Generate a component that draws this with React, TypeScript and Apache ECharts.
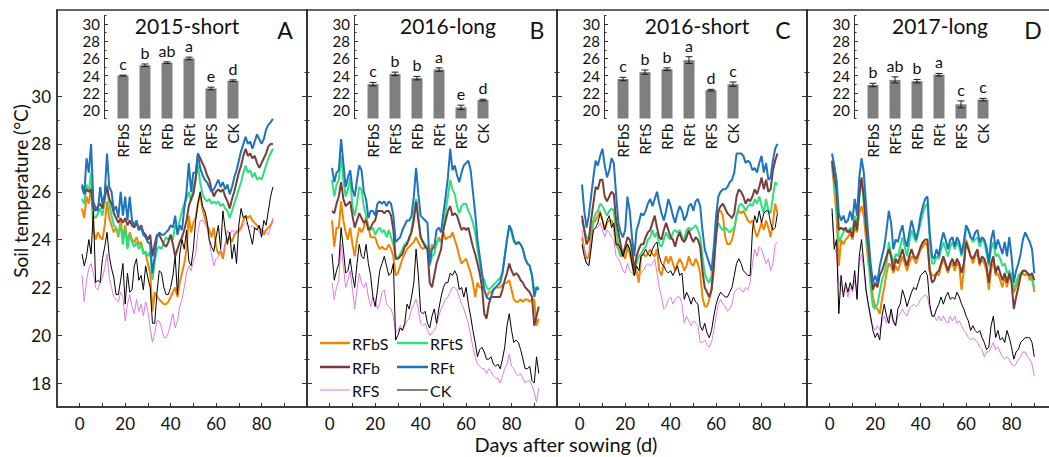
import React, { useEffect, useRef } from 'react';
import * as echarts from 'echarts';

const treatments = ['RFbS', 'RFtS', 'RFb', 'RFt', 'RFS', 'CK'];
const seriesColors = ['#F28500', '#2BE07D', '#7A3B3B', '#1E73BE', '#E07BE0', '#000000'];
const seriesWidths = [2, 2, 2, 2, 1, 1];
const panelTitles = ['2015-short', '2016-long', '2016-short', '2017-long'];
const panelLetters = ['A', 'B', 'C', 'D'];
const xTickLabels = [0, 20, 40, 60, 80];
const xTicks = [0, 10, 20, 30, 40, 50, 60, 70, 80, 90];
const yTickLabels = [18, 20, 22, 24, 26, 28, 30];
const yMinorTicks = [19, 21, 23, 25, 27, 29, 31];
const insetTickLabels = [20, 22, 24, 26, 28, 30];
const insetMinorTicks = [19, 21, 23, 25, 27, 29, 31];

// Panel A: 2015-short, day 1..85
const A_RFbS = [25.3,24.9,25.8,25.5,26.2,24.4,24.0,24.3,24.1,24.0,24.6,25.6,24.9,24.6,24.3,24.5,24.1,24.8,24.1,24.6,23.9,24.3,24.0,23.9,24.1,23.8,23.9,23.5,23.4,23.0,22.6,21.0,21.8,21.6,21.5,21.4,21.3,21.3,21.4,21.6,21.8,22.0,21.6,22.2,22.6,23.0,23.6,25.0,24.3,24.7,24.9,25.5,25.9,25.3,24.9,24.6,24.4,24.1,24.5,23.7,23.4,23.5,23.2,23.8,24.0,24.1,23.9,24.2,24.3,24.4,24.5,24.8,25.0,24.9,25.0,24.8,24.7,24.6,24.5,24.4,24.2,24.4,24.5,24.6,24.8];
const A_RFtS = [25.7,25.5,26.3,26.0,26.8,25.0,24.9,25.1,25.3,25.0,25.6,26.3,25.5,25.0,24.6,24.5,24.2,24.6,23.8,24.5,23.6,24.2,23.9,23.7,23.9,23.6,23.8,23.4,23.5,23.3,23.5,22.3,23.1,23.6,23.7,23.6,23.9,24.1,24.0,24.2,24.0,24.6,24.4,24.8,25.2,25.5,25.7,26.0,25.6,26.2,26.6,27.1,26.4,25.9,25.7,25.6,25.7,25.5,25.6,25.5,25.6,25.4,25.5,25.3,25.2,24.9,25.2,25.5,25.8,26.1,26.4,26.8,27.1,26.8,26.9,26.6,26.8,26.5,26.6,26.5,26.8,27.1,27.4,27.6,27.8];
const A_RFb = [26.2,25.9,26.1,26.0,26.1,25.3,25.2,25.4,25.5,25.3,25.8,26.2,25.7,25.5,25.1,24.9,24.7,24.9,24.7,24.9,24.6,24.8,24.6,24.5,24.7,24.4,24.6,24.3,24.2,24.0,24.2,23.3,23.8,24.2,24.2,24.0,23.8,23.7,23.9,24.2,23.8,23.3,23.6,23.9,24.1,24.4,24.8,25.4,25.7,25.9,26.5,27.6,27.4,27.2,27.0,26.7,26.5,26.1,25.8,26.0,26.1,26.0,26.1,25.8,25.6,25.3,25.7,26.0,26.4,26.8,27.1,27.5,27.8,27.5,27.6,27.4,27.5,27.2,27.0,27.2,27.4,27.6,27.9,28.0,28.0];
const A_RFt = [26.3,25.9,27.4,26.8,28.0,25.6,25.3,25.2,26.2,25.5,25.9,27.6,26.2,26.0,25.2,25.4,24.9,26.0,25.0,25.8,24.8,25.8,24.8,24.6,24.8,24.4,24.5,24.2,24.1,23.9,23.8,22.6,23.3,24.1,24.3,24.2,24.2,24.3,24.4,24.6,24.5,25.0,24.2,24.6,24.4,25.3,26.0,27.2,26.0,26.8,26.8,27.6,27.0,26.7,26.5,26.4,26.2,26.0,26.1,26.3,26.5,26.2,26.4,26.1,26.3,25.9,26.2,26.6,26.9,27.3,27.7,28.0,28.3,28.0,28.1,27.8,28.1,28.4,28.2,28.0,28.2,28.6,28.8,28.9,29.05];
const A_RFS = [22.5,21.4,22.3,22.8,23.0,22.6,22.0,21.9,22.2,22.4,22.8,23.4,22.4,22.0,21.6,21.5,21.4,21.8,21.6,20.6,21.3,21.7,21.2,20.9,21.5,21.0,21.3,20.8,21.4,21.0,20.3,19.7,20.1,20.6,20.6,20.3,19.9,19.9,20.1,20.5,20.9,20.3,20.6,21.2,21.5,22.0,22.6,22.9,22.7,23.1,23.4,24.3,24.8,24.8,24.7,24.5,23.9,23.4,22.9,23.2,23.3,23.6,23.4,23.8,24.4,24.2,24.4,24.3,24.4,24.3,24.4,24.6,24.7,24.6,24.5,24.6,24.4,24.5,24.3,24.2,24.4,24.3,24.2,24.5,24.9];
const A_CK = [23.4,22.9,23.3,24.0,23.4,25.2,22.2,22.3,22.2,23.2,23.7,24.3,23.3,22.8,22.4,21.7,21.7,22.3,23.0,21.3,22.6,21.8,21.9,22.9,23.2,22.3,22.5,21.9,22.9,22.4,22.0,20.5,20.5,21.8,22.7,22.6,22.0,21.7,21.7,22.0,22.5,23.3,21.7,23.4,24.0,23.6,24.4,23.1,22.9,23.6,24.8,25.5,26.0,25.4,25.2,24.8,24.0,23.7,23.5,24.1,24.6,23.6,25.2,24.4,23.8,24.3,23.2,23.8,23.0,24.6,25.3,24.9,25.0,24.6,24.2,23.8,24.5,24.4,24.6,24.1,24.8,24.6,25.2,25.8,26.2];

// Panel B: 2016-long, day 1..92
const B_RFbS = [24.8,23.7,24.5,24.5,25.6,24.8,24.3,24.0,24.5,23.8,23.3,24.0,24.5,24.3,24.5,25.0,24.5,24.1,24.1,24.1,23.8,23.6,23.7,23.6,23.6,23.8,23.6,23.3,22.5,22.6,22.9,23.2,23.4,23.6,23.7,23.8,23.9,24.1,23.9,23.7,23.6,23.7,23.6,23.3,23.8,23.6,23.8,24.1,23.9,24.3,24.0,24.1,24.1,24.3,24.0,23.7,23.3,23.0,23.1,23.2,22.9,22.6,22.2,21.6,22.2,22.0,22.0,21.9,21.6,21.8,21.8,21.9,22.0,22.0,22.0,22.1,22.2,22.2,22.3,21.9,21.5,21.4,21.4,21.5,21.4,21.5,21.5,21.4,21.5,21.5,20.4,20.7];
const B_RFtS = [26.5,25.8,26.3,26.5,27.5,26.5,25.8,26.1,26.6,25.4,25.0,25.5,26.2,26.1,25.4,25.0,24.5,24.4,24.5,24.2,24.4,24.5,24.3,24.4,24.1,24.4,24.1,23.8,23.3,23.2,23.4,23.6,23.8,23.9,24.0,24.4,25.1,25.7,25.0,24.1,23.9,23.8,23.7,22.9,23.3,23.4,23.9,24.0,23.9,24.4,25.2,25.8,26.5,26.1,25.9,25.4,25.1,25.4,25.5,25.5,25.2,25.0,24.7,24.3,23.6,23.0,22.5,22.3,22.0,21.9,22.0,22.1,22.2,22.3,22.4,22.6,23.3,24.0,24.5,24.3,23.9,23.8,23.9,23.8,23.6,23.2,23.0,22.9,22.5,21.9,22.0,22.0];
const B_RFb = [25.2,25.1,25.5,25.8,26.4,25.7,25.4,25.5,25.6,25.0,24.5,24.8,25.1,24.9,24.7,24.8,24.4,24.5,24.7,24.8,25.2,25.2,25.2,25.1,25.2,25.2,25.0,24.4,23.2,23.2,23.3,23.4,23.7,23.8,24.1,24.3,24.8,25.6,24.8,24.1,23.9,23.7,23.6,22.2,22.0,22.5,23.0,23.3,23.6,24.4,24.8,25.2,25.4,25.0,25.1,25.0,24.7,24.4,24.5,24.4,24.5,24.1,23.7,23.4,23.0,22.6,22.0,20.9,20.7,21.3,21.6,21.6,21.6,21.6,21.6,21.9,22.3,22.6,23.0,22.7,22.5,22.6,22.5,22.3,22.2,22.0,21.9,21.8,21.6,20.4,20.8,21.2];
const B_RFt = [27.0,26.4,26.8,26.9,28.2,27.2,26.2,26.6,26.9,26.1,25.8,26.5,27.1,26.9,26.0,25.7,24.9,25.2,25.2,25.0,25.5,25.6,25.5,25.6,25.4,25.6,25.5,25.0,23.9,24.0,24.1,24.4,24.6,24.8,24.8,25.0,25.8,27.0,25.9,25.0,24.9,24.8,24.7,23.0,23.6,23.7,24.4,24.5,24.3,25.1,25.8,26.6,27.8,26.9,27.1,26.7,26.4,26.8,27.1,27.2,27.3,26.9,26.0,25.1,24.0,23.3,22.6,21.9,21.6,21.5,21.6,21.9,22.0,22.1,22.2,22.6,23.3,24.0,24.6,24.4,24.0,23.8,23.9,23.8,23.6,23.2,23.0,22.9,22.5,21.6,22.0,21.9];
const B_RFS = [22.2,21.5,22.0,22.3,23.8,22.9,22.0,22.3,22.7,21.9,21.1,21.9,22.6,22.2,22.0,22.2,21.6,21.2,21.6,21.5,21.1,21.3,21.8,21.9,21.3,21.2,21.1,20.8,20.1,20.2,20.4,20.2,20.4,20.6,20.7,21.1,21.3,21.5,21.1,20.5,20.4,20.5,20.2,20.0,20.1,20.2,20.4,20.8,21.1,21.3,21.5,21.6,21.8,22.0,22.0,21.9,21.6,21.3,21.1,20.8,20.5,20.0,19.5,19.1,18.8,18.7,18.6,18.6,18.4,18.6,18.5,18.3,18.2,18.2,18.0,18.3,18.6,18.8,19.2,18.7,18.6,18.4,18.3,18.4,18.2,18.0,18.1,18.1,17.9,17.6,17.2,17.8];
const B_CK = [23.4,22.3,22.7,23.0,24.5,23.6,22.6,22.7,23.2,22.5,22.0,23.0,23.8,23.3,23.2,23.8,23.0,22.5,21.6,21.2,21.9,22.7,23.0,23.3,22.9,22.5,22.6,23.0,19.8,20.0,20.3,20.2,20.5,21.3,21.1,21.6,22.2,23.6,22.5,21.0,20.9,21.0,20.5,20.3,20.8,21.1,20.5,21.1,21.6,22.0,22.2,22.2,22.6,22.5,22.7,22.5,21.9,22.0,21.6,22.0,21.3,20.8,20.2,19.7,19.1,19.4,19.5,19.3,19.0,19.0,19.1,18.8,18.7,18.8,18.6,19.0,19.5,20.4,20.9,20.2,19.7,19.8,19.7,19.4,19.0,18.6,18.6,18.7,18.1,18.0,19.1,18.4];

// Panel C: 2016-short, day 1..87
const C_RFbS = [24.1,23.6,23.2,23.3,24.1,24.7,24.8,25.0,25.2,24.8,24.4,24.7,24.8,24.8,24.5,23.8,23.6,23.3,23.4,23.2,23.7,23.4,23.0,22.5,22.7,22.2,23.3,23.4,23.3,23.4,23.6,23.4,23.3,23.6,22.7,22.5,23.0,23.3,23.0,23.3,23.0,22.7,23.0,23.2,23.0,22.7,22.9,23.3,23.0,22.9,23.2,23.0,22.6,21.6,21.2,21.2,21.5,21.9,22.7,24.4,25.2,25.2,25.0,24.1,23.8,23.8,24.0,24.4,25.0,25.2,25.1,25.2,25.0,24.8,24.7,24.8,24.4,24.1,24.4,24.7,24.4,24.8,24.5,24.1,24.7,25.5,25.1];
const C_RFtS = [24.8,24.4,24.1,24.0,24.4,24.8,25.1,25.2,25.5,25.4,25.2,25.0,25.2,25.3,25.2,24.4,23.8,23.3,23.4,23.7,23.8,23.6,23.2,22.6,23.0,23.3,23.4,23.6,23.7,24.0,24.1,24.4,24.1,24.3,23.8,23.7,24.0,24.3,24.1,24.0,24.3,24.4,24.3,24.4,24.1,24.0,24.4,24.5,24.4,24.5,24.6,24.4,24.1,23.3,22.6,22.3,22.2,22.5,23.3,24.3,24.7,24.5,24.4,24.5,24.4,24.3,24.4,24.5,25.0,25.4,25.5,25.4,25.2,25.4,25.5,25.4,25.7,25.5,25.8,25.4,25.1,25.7,25.2,25.1,25.8,26.4,26.3];
const C_RFb = [25.0,24.4,23.8,24.0,24.8,25.5,26.2,26.1,26.5,26.5,25.8,25.6,25.8,26.0,25.9,24.8,24.3,23.8,23.3,23.7,24.1,24.0,23.6,22.7,23.3,23.6,23.8,23.8,24.1,24.3,24.4,24.7,25.0,24.5,24.1,24.0,24.4,24.7,24.4,24.1,24.0,23.7,24.1,24.3,24.0,23.9,24.1,24.4,24.1,23.9,24.1,24.0,23.7,22.7,22.0,21.8,21.6,21.9,23.0,24.1,25.2,25.4,25.5,25.3,25.1,25.0,24.9,25.1,25.8,26.1,26.0,25.8,25.5,25.7,25.6,25.8,26.1,25.9,26.2,26.6,26.1,26.5,26.0,26.1,26.9,27.3,27.6];
const C_RFt = [26.3,25.2,24.5,25.0,25.8,26.6,27.3,27.1,27.5,27.8,27.1,26.6,26.9,27.4,27.2,25.9,24.7,24.3,24.1,24.4,25.8,25.2,24.1,23.3,24.4,24.7,25.1,25.0,25.2,25.5,25.7,25.4,25.7,26.0,25.5,25.1,24.8,25.2,25.7,25.4,25.0,24.7,25.1,25.4,25.2,24.8,25.0,25.4,25.5,25.2,25.6,25.7,25.4,24.4,23.6,23.3,23.0,22.7,23.7,25.0,25.8,26.0,26.1,26.1,26.2,26.4,26.5,26.8,27.6,27.6,27.6,27.5,27.2,27.3,27.2,26.9,27.0,26.8,27.2,27.5,26.8,27.2,26.5,26.6,27.3,27.8,28.0];
const C_RFS = [24.4,23.6,23.0,23.0,23.8,24.4,24.5,24.5,24.7,24.4,24.1,24.4,24.3,24.1,24.0,23.3,23.2,23.0,22.7,22.6,23.0,22.7,22.6,22.5,22.6,22.5,22.6,22.7,22.9,23.0,22.9,23.0,23.2,22.6,22.0,21.6,21.1,21.2,21.5,21.6,21.3,21.5,21.6,21.6,21.3,20.5,20.8,20.6,20.4,20.6,20.5,20.4,19.7,19.7,19.8,19.6,19.5,19.7,20.2,20.8,21.3,21.5,21.3,21.2,21.0,21.1,21.3,21.8,21.9,22.0,21.9,21.8,22.0,21.9,22.2,23.0,23.6,23.3,23.7,23.6,23.3,23.0,23.2,22.7,23.0,23.8,23.9];
const C_CK = [23.8,23.3,23.0,22.9,23.6,24.4,24.5,24.7,25.1,24.8,24.4,24.8,25.0,24.5,24.7,23.8,23.8,23.6,23.3,23.6,23.8,23.6,23.0,22.5,22.9,22.7,23.3,23.4,23.6,23.4,23.3,23.6,23.8,23.9,23.3,23.0,22.9,22.7,22.6,22.7,22.5,22.7,22.9,22.5,22.6,21.5,21.8,21.6,21.3,21.6,21.4,21.3,20.4,20.2,20.5,20.1,19.9,20.2,20.8,21.3,21.6,21.8,21.7,21.6,21.6,21.8,22.0,22.5,23.0,23.2,23.0,22.7,22.6,22.5,22.5,24.4,25.0,24.7,25.2,24.7,25.1,25.2,25.2,24.7,24.4,24.5,25.1];

// Panel D: 2017-long, day 1..90
const D_RFbS = [27.1,26.1,25.0,22.9,24.0,23.8,24.0,24.1,24.3,24.0,24.5,24.3,25.1,25.4,25.0,24.0,23.0,22.5,21.6,21.2,21.1,20.9,21.5,22.0,22.6,23.0,22.9,22.6,22.9,22.7,23.0,23.3,23.0,22.7,23.0,23.3,23.2,23.0,23.3,23.6,23.7,23.9,23.7,22.7,22.5,22.5,22.6,22.5,22.9,23.2,22.9,22.6,22.9,23.0,22.7,23.0,22.9,21.9,22.7,24.0,23.7,23.3,23.0,23.3,23.4,22.9,23.2,23.0,22.7,21.9,22.7,23.2,22.5,22.6,22.3,22.0,22.5,22.0,22.5,22.3,21.8,22.0,22.3,22.5,22.6,22.5,22.6,22.3,22.5,21.8];
const D_RFtS = [27.2,26.4,25.5,23.9,24.1,24.3,24.4,24.3,24.5,24.4,25.0,24.5,25.9,26.5,25.5,24.4,23.3,22.0,21.2,21.1,21.3,21.8,22.3,22.6,23.0,23.9,23.4,23.0,23.4,23.3,23.7,24.1,23.7,23.3,23.9,24.4,24.1,23.9,24.3,24.7,25.1,25.4,25.5,24.0,23.0,23.0,23.3,23.2,23.6,23.9,23.6,23.3,23.7,23.9,23.6,23.9,23.7,23.3,23.7,24.5,24.4,24.1,23.9,24.0,24.1,23.7,24.0,23.9,23.4,22.9,23.6,23.9,23.3,23.4,23.2,22.9,23.0,22.6,22.7,22.5,21.9,22.2,22.5,22.6,22.7,22.7,22.6,22.5,22.3,22.0];
const D_RFb = [27.3,26.6,26.1,24.4,24.5,24.4,24.5,24.3,24.4,24.1,24.8,24.4,25.8,26.6,25.8,24.5,23.7,22.7,21.9,22.2,22.0,22.5,22.7,23.0,23.3,23.6,23.3,22.7,23.2,23.0,23.3,23.6,23.2,22.9,23.3,23.6,23.3,23.2,23.4,23.7,23.9,24.0,24.0,22.7,22.2,22.3,22.6,22.7,23.0,23.3,23.0,22.7,23.0,23.2,22.9,23.2,23.0,22.6,23.0,23.9,23.6,23.3,23.2,23.4,23.6,23.0,23.3,23.2,22.9,22.2,23.0,23.3,22.6,22.9,22.6,22.3,22.6,22.2,22.6,22.2,21.1,21.6,22.0,22.5,22.7,22.7,22.6,22.5,22.6,22.3];
const D_RFt = [27.6,27.1,26.5,25.1,24.8,25.0,24.7,24.8,25.2,24.8,25.7,25.0,26.6,27.4,26.8,25.4,24.1,23.0,22.2,22.5,22.2,22.9,23.3,23.7,24.4,25.2,24.7,23.6,24.0,23.9,24.3,24.6,24.0,23.7,24.3,24.8,24.4,24.0,24.4,25.0,25.4,25.7,25.8,24.3,23.3,23.2,23.6,23.3,23.9,24.3,24.0,23.6,24.0,24.1,23.7,24.1,23.9,23.4,23.9,24.6,24.4,24.1,24.0,24.3,24.4,23.9,24.1,24.0,23.7,23.0,24.0,24.4,23.6,24.0,23.7,23.4,23.9,23.3,24.1,23.3,22.2,22.7,23.0,23.4,24.0,24.3,24.1,23.9,23.6,22.6];
const D_RFS = [25.1,23.7,23.4,22.2,21.9,21.8,22.0,21.6,22.0,21.8,22.3,21.9,23.0,23.4,22.7,21.8,21.2,20.6,20.4,20.2,20.4,20.2,20.6,20.8,20.5,20.8,20.9,20.5,20.4,20.8,20.9,21.1,20.9,20.8,21.1,21.2,21.3,21.2,21.3,21.5,21.6,21.7,21.6,21.1,20.8,20.8,20.6,20.8,20.6,20.8,20.6,20.5,20.8,20.6,20.8,20.5,20.6,20.4,20.2,20.1,19.9,19.8,19.9,19.8,19.7,19.5,19.4,19.1,19.3,19.3,19.5,19.7,19.4,19.5,19.3,19.1,19.0,19.1,19.0,18.8,18.7,18.8,19.0,19.1,19.3,19.3,19.1,19.0,18.8,18.3];
const D_CK = [25.3,23.6,24.0,20.9,22.5,21.6,22.2,21.8,22.2,21.9,22.7,21.5,23.3,24.0,23.0,21.9,21.3,20.8,20.2,19.9,20.1,19.8,20.8,21.3,20.8,20.5,21.1,20.6,20.4,21.1,21.3,21.9,21.6,21.2,21.5,21.8,22.0,21.9,22.2,22.5,22.6,22.7,22.5,21.3,20.8,20.8,21.1,21.3,21.6,21.3,21.6,21.8,21.5,21.6,21.5,21.8,21.6,21.3,21.1,20.8,20.6,20.2,20.4,20.2,20.1,20.2,19.9,19.7,19.4,19.5,20.4,20.8,19.9,20.2,19.8,19.9,19.7,20.2,19.9,19.5,19.0,19.3,19.4,19.7,19.8,19.9,19.9,19.9,19.7,19.1];

// Inset bar charts: means, error and significance letters
const barA = [24.0, 25.2, 25.5, 26.0, 22.5, 23.4];
const errA = [0.05, 0.15, 0.1, 0.15, 0.15, 0.1];
const lettersA = ['c', 'b', 'ab', 'a', 'e', 'd'];
const barB = [23.0, 24.2, 23.7, 24.7, 20.3, 21.15];
const errB = [0.2, 0.2, 0.2, 0.2, 0.25, 0.1];
const lettersB = ['c', 'b', 'b', 'a', 'e', 'd'];
const barC = [23.6, 24.4, 24.75, 25.8, 22.3, 23.0];
const errC = [0.2, 0.25, 0.15, 0.4, 0.1, 0.25];
const lettersC = ['c', 'b', 'b', 'a', 'd', 'c'];
const barD = [22.9, 23.5, 23.35, 24.1, 20.65, 21.2];
const errD = [0.2, 0.35, 0.2, 0.15, 0.4, 0.15];
const lettersD = ['b', 'ab', 'b', 'a', 'c', 'c'];

const FONT = 'Lato, "Noto Sans", "DejaVu Sans", sans-serif';
const AXIS_COLOR = '#333';

function txt(text: string, x: number, y: number, size: number, align = 'center', vAlign = 'middle', rotation = 0, lineHeight?: number) {
  const style: any = {
    text,
    fill: '#111',
    fontSize: size,
    fontFamily: FONT,
    align,
    verticalAlign: vAlign,
    textAlign: align,
    textVerticalAlign: vAlign,
  };
  if (lineHeight) style.lineHeight = lineHeight;
  return { type: 'text', x, y, rotation, silent: true, style };
}

function buildOption() {
  const panels = [
    [A_RFbS, A_RFtS, A_RFb, A_RFt, A_RFS, A_CK],
    [B_RFbS, B_RFtS, B_RFb, B_RFt, B_RFS, B_CK],
    [C_RFbS, C_RFtS, C_RFb, C_RFt, C_RFS, C_CK],
    [D_RFbS, D_RFtS, D_RFb, D_RFt, D_RFS, D_CK],
  ];
  const bars = [barA, barB, barC, barD];
  const errs = [errA, errB, errC, errD];
  const letters = [lettersA, lettersB, lettersC, lettersD];

  const grids: any[] = [];
  const xAxes: any[] = [];
  const yAxes: any[] = [];
  const series: any[] = [];
  const graphics: any[] = [];

  const panelW = 250;
  const baseLeft = 57;

  for (let i = 0; i < 4; i++) {
    grids.push({
      left: baseLeft + panelW * i,
      top: 10,
      width: panelW,
      height: 397,
      show: true,
      borderColor: AXIS_COLOR,
      borderWidth: 1.5,
      backgroundColor: 'transparent',
      outerBoundsMode: 'none',
      containLabel: false,
    });
  }
  for (let i = 0; i < 4; i++) {
    grids.push({
      left: baseLeft + panelW * i + 55,
      top: 15.5,
      width: 132,
      height: 103,
      show: false,
      outerBoundsMode: 'none',
      containLabel: false,
    });
  }

  // x axes 0..3 : line panels
  for (let i = 0; i < 4; i++) {
    xAxes.push({
      type: 'value',
      gridIndex: i,
      min: -10,
      max: 100,
      axisLine: { show: true, onZero: false, lineStyle: { color: AXIS_COLOR, width: 1.5 } },
      axisTick: { show: true, inside: true, length: 4, customValues: xTicks, lineStyle: { color: AXIS_COLOR, width: 1 } },
      axisLabel: {
        show: true,
        margin: 8,
        fontSize: 17,
        lineHeight: 17,
        fontFamily: FONT,
        color: '#111',
        customValues: xTickLabels,
        formatter: (v: number) => String(Math.round(v)),
      },
      splitLine: { show: false },
    });
  }
  // x axes 4..7 : inset categories
  for (let i = 0; i < 4; i++) {
    xAxes.push({
      type: 'category',
      gridIndex: 4 + i,
      data: treatments,
      axisLine: { show: false },
      axisTick: { show: false },
      axisLabel: { show: true, rotate: 90, interval: 0, margin: 5, fontSize: 15, fontFamily: FONT, color: '#111' },
      splitLine: { show: false },
    });
  }

  const mainY = (i: number, position: string, major: boolean, labels: boolean) => ({
    type: 'value',
    gridIndex: i,
    position,
    min: 17,
    max: 33.6,
    axisLine: { show: major, onZero: false, lineStyle: { color: AXIS_COLOR, width: 1.5 } },
    axisTick: {
      show: true,
      inside: true,
      length: major ? 5 : 2.5,
      customValues: major ? yTickLabels : yMinorTicks,
      lineStyle: { color: AXIS_COLOR, width: 1 },
    },
    axisLabel: {
      show: labels,
      margin: 6,
      fontSize: 17,
      fontFamily: FONT,
      color: '#111',
      customValues: yTickLabels,
      formatter: (v: number) => String(Math.round(v)),
    },
    splitLine: { show: false },
  });
  // y 0..3 left major, 4..7 right major, 8..11 left minor, 12..15 right minor
  for (let i = 0; i < 4; i++) yAxes.push(mainY(i, 'left', true, i === 0));
  for (let i = 0; i < 4; i++) yAxes.push(mainY(i, 'right', true, false));
  for (let i = 0; i < 4; i++) yAxes.push(mainY(i, 'left', false, false));
  for (let i = 0; i < 4; i++) yAxes.push(mainY(i, 'right', false, false));

  const insetY = (i: number, major: boolean) => ({
    type: 'value',
    gridIndex: 4 + i,
    position: 'left',
    offset: 8,
    min: 19,
    max: 31,
    axisLine: { show: major, onZero: false, lineStyle: { color: AXIS_COLOR, width: 1 } },
    axisTick: {
      show: true,
      inside: true,
      length: major ? 4 : 2.5,
      customValues: major ? insetTickLabels : insetMinorTicks,
      lineStyle: { color: AXIS_COLOR, width: 1 },
    },
    axisLabel: {
      show: major,
      margin: 4,
      fontSize: 15,
      fontFamily: FONT,
      color: '#111',
      customValues: insetTickLabels,
      formatter: (v: number) => String(Math.round(v)),
    },
    splitLine: { show: false },
  });
  // y 16..19 inset major, 20..23 inset minor
  for (let i = 0; i < 4; i++) yAxes.push(insetY(i, true));
  for (let i = 0; i < 4; i++) yAxes.push(insetY(i, false));

  // line series
  for (let i = 0; i < 4; i++) {
    panels[i].forEach((arr, k) => {
      series.push({
        type: 'line',
        name: treatments[k],
        xAxisIndex: i,
        yAxisIndex: i,
        data: arr.map((v, d) => [d + 1, v]),
        showSymbol: false,
        symbol: 'none',
        clip: true,
        silent: true,
        z: 2 + k * 0.1,
        lineStyle: { color: seriesColors[k], width: seriesWidths[k] },
        itemStyle: { color: seriesColors[k] },
      });
    });
  }

  // inset bars, error bars and letters
  for (let i = 0; i < 4; i++) {
    const lt = letters[i];
    series.push({
      type: 'bar',
      xAxisIndex: 4 + i,
      yAxisIndex: 16 + i,
      data: bars[i],
      barWidth: 11,
      clip: true,
      silent: true,
      z: 4,
      itemStyle: { color: '#7f7f7f' },
    });
    series.push({
      type: 'custom',
      xAxisIndex: 4 + i,
      yAxisIndex: 16 + i,
      data: bars[i].map((m, k) => [k, m, errs[i][k]]),
      clip: false,
      silent: true,
      z: 5,
      renderItem: (params: any, api: any) => {
        const c = api.value(0);
        const m = api.value(1);
        const e = api.value(2);
        const t = api.coord([c, m + e]);
        const b = api.coord([c, m - e]);
        const x = t[0];
        const st = { stroke: '#1a1a1a', lineWidth: 1 };
        return {
          type: 'group',
          children: [
            { type: 'line', shape: { x1: x, y1: t[1], x2: x, y2: b[1] }, style: st },
            { type: 'line', shape: { x1: x - 3.5, y1: t[1], x2: x + 3.5, y2: t[1] }, style: st },
            { type: 'line', shape: { x1: x - 3.5, y1: b[1], x2: x + 3.5, y2: b[1] }, style: st },
            {
              type: 'text',
              x: x,
              y: t[1] - 4,
              style: {
                text: lt[params.dataIndex],
                fill: '#111',
                fontSize: 16,
                lineHeight: 15,
                fontFamily: FONT,
                align: 'center',
                verticalAlign: 'bottom',
                textAlign: 'center',
                textVerticalAlign: 'bottom',
              },
            },
          ],
        };
      },
    });
  }

  // titles and panel letters
  const titleX = [187, 448, 697, 940];
  const letterX = [285, 537, 783, 1033];
  for (let i = 0; i < 4; i++) {
    graphics.push(txt(panelTitles[i], titleX[i], 25, 21, 'center', 'middle', 0, 19));
    graphics.push(txt(panelLetters[i], letterX[i], 30, 23, 'center', 'middle', 0, 22));
  }
  // axis titles
  graphics.push(txt('Soil temperature (°C)', 20, 191, 19, 'center', 'middle', Math.PI / 2, 19));
  graphics.push(txt('Days after sowing (d)', 566, 444, 20, 'center', 'middle', 0, 19));

  // legend inside panel B
  const legLineX = [[320, 350], [397, 428]];
  const legTextX = [352, 430];
  const legRowY = [343, 367, 390];
  treatments.forEach((name, k) => {
    const col = k % 2;
    const row = Math.floor(k / 2);
    graphics.push({
      type: 'line',
      silent: true,
      shape: { x1: legLineX[col][0], y1: legRowY[row], x2: legLineX[col][1], y2: legRowY[row] },
      style: { stroke: seriesColors[k], lineWidth: seriesWidths[k] + (seriesWidths[k] > 1 ? 0.5 : 0) },
    });
    graphics.push(txt(name, legTextX[col], legRowY[row], 16, 'left', 'middle', 0, 16));
  });

  return {
    animation: false,
    backgroundColor: '#ffffff',
    textStyle: { fontFamily: FONT },
    grid: grids,
    xAxis: xAxes,
    yAxis: yAxes,
    series,
    graphic: { elements: graphics },
  };
}

export default function App() {
  const ref = useRef<HTMLDivElement | null>(null);
  useEffect(() => {
    if (!ref.current) return;
    const chart = echarts.init(ref.current, undefined, { renderer: 'svg' });
    chart.setOption(buildOption() as any);
    return () => {
      chart.dispose();
    };
  }, []);
  return (
    <div
      ref={ref}
      style={{ position: 'fixed', left: 0, top: 0, width: 1049, height: 457, background: '#fff' }}
    />
  );
}
